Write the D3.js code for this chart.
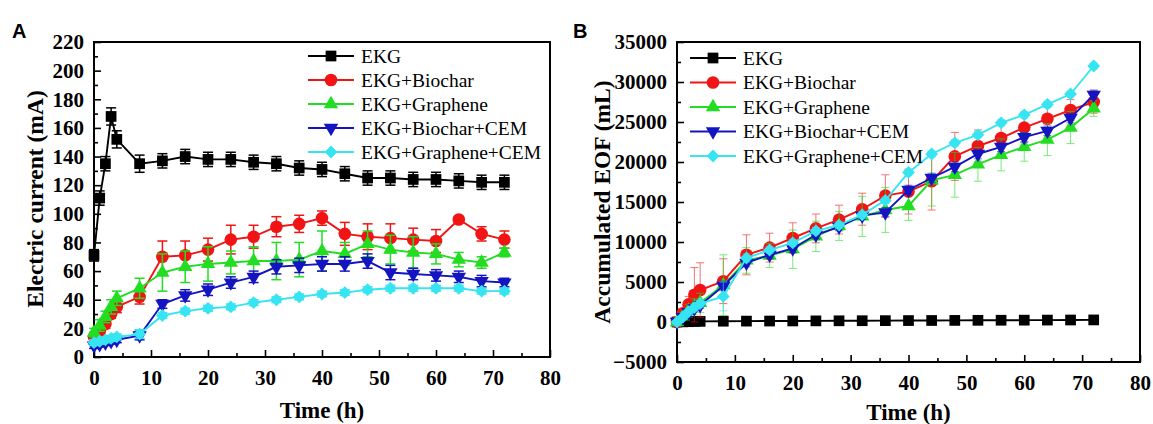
<!DOCTYPE html>
<html>
<head>
<meta charset="utf-8">
<script src="https://cdn.jsdelivr.net/npm/d3@7"></script>
<style>
  html, body { margin: 0; padding: 0; background: #fff; }
  svg { display: block; }
</style>
</head>
<body>
<div id="chart"></div>
<script>
// sampling times (h), shared by both panels
const times = [0, 1, 2, 3, 4, 8, 12, 16, 20, 24, 28, 32, 36, 40, 44, 48, 52, 56, 60, 64, 68, 72];

const seriesNames = ['EKG', 'EKG+Biochar', 'EKG+Graphene', 'EKG+Biochar+CEM', 'EKG+Graphene+CEM'];

// panel A: electric current (mA)
const ekgA          = [71, 111, 135, 168, 152, 135, 137, 140, 138, 138, 136, 135, 132, 131, 128, 125, 125, 124, 124, 123, 122, 122];
const ekgErrA       = [4, 5, 5, 6, 6, 6, 5, 5, 5, 5, 5, 5, 5, 5, 5, 5, 5, 5, 5, 5, 5, 5];
const biocharA      = [14, 18, 23, 30, 35, 42, 70, 71, 75, 82, 84, 91, 93, 97, 86, 84, 83, 82, 81, 96, 86, 82];
const biocharErrA   = [3, 3, 3, 3, 4, 5, 11, 10, 8, 10, 8, 7, 6, 5, 8, 9, 10, 8, 8, 1, 5, 6];
const grapheneA     = [17, 22, 28, 35, 41, 48, 59, 63, 65, 66, 67, 67, 68, 74, 72, 79, 75, 73, 72, 68, 66, 73];
const grapheneErrA  = [3, 4, 4, 5, 5, 7, 13, 11, 12, 8, 10, 13, 12, 14, 8, 9, 10, 11, 7, 5, 4, 3];
const biocharCemA   = [8, 9, 10, 11, 12, 15, 37, 43, 47, 52, 56, 63, 64, 65, 65, 67, 59, 58, 57, 56, 53, 52];
const biocharCemErrA = [2, 2, 2, 2, 2, 3, 3, 4, 4, 4, 4, 5, 5, 5, 5, 5, 5, 4, 4, 4, 4, 3];
const grapheneCemA  = [10, 11, 12, 13, 14, 16, 29, 32, 34, 35, 38, 40, 42, 44, 45, 47, 48, 48, 48, 48, 46, 46];
const grapheneCemErrA = [2, 2, 2, 2, 2, 3, 2, 2, 2, 2, 2, 2, 2, 2, 2, 2, 2, 2, 2, 2, 2, 2];

// panel B: accumulated EOF (mL)
const ekgB          = [0, 20, 40, 60, 80, 100, 110, 120, 130, 140, 150, 160, 170, 180, 190, 200, 210, 220, 230, 240, 250, 260];
const ekgErrB       = [0, 0, 0, 0, 0, 0, 0, 0, 0, 0, 0, 0, 0, 0, 0, 0, 0, 0, 0, 0, 0, 0];
const biocharB      = [0, 1100, 2200, 3400, 4000, 5100, 8400, 9300, 10500, 11700, 12800, 14100, 15800, 16300, 17600, 20700, 22000, 23000, 24300, 25400, 26500, 27500];
const biocharErrB   = [0, 500, 1000, 3400, 3400, 2800, 2500, 1800, 1900, 1800, 1800, 2000, 2600, 2800, 3600, 3000, 2000, 2000, 1800, 1500, 1300, 1400];
const grapheneB     = [0, 700, 1400, 1900, 2400, 4600, 7700, 8300, 9100, 10700, 12000, 13200, 14000, 14500, 17700, 18400, 19700, 20900, 21900, 22800, 24300, 26700];
const grapheneErrB  = [0, 400, 800, 1000, 1200, 3800, 1600, 1500, 2400, 1900, 1800, 2500, 2800, 1800, 3200, 2800, 2100, 2000, 1800, 2000, 2000, 1000];
const biocharCemB   = [0, 600, 1200, 1700, 2100, 4500, 7400, 8400, 9200, 10900, 11900, 13300, 13700, 16500, 18000, 19400, 21000, 21900, 23100, 23900, 25500, 28400];
const biocharCemErrB = [0, 200, 300, 400, 400, 600, 500, 500, 500, 500, 500, 500, 600, 600, 600, 600, 600, 600, 600, 600, 600, 600];
const grapheneCemB  = [0, 600, 1300, 1800, 2300, 3200, 8000, 9000, 9900, 11400, 12100, 13400, 15200, 18700, 21000, 22400, 23400, 24900, 25900, 27200, 28500, 32000];
const grapheneCemErrB = [0, 200, 300, 400, 400, 1800, 500, 400, 400, 400, 400, 400, 400, 400, 400, 400, 400, 400, 400, 400, 400, 400];

const xTicks = [0, 10, 20, 30, 40, 50, 60, 70, 80];
const xMinorTicks = [5, 15, 25, 35, 45, 55, 65, 75];
const yTicksA = [0, 20, 40, 60, 80, 100, 120, 140, 160, 180, 200, 220];
const yMinorTicksA = [10, 30, 50, 70, 90, 110, 130, 150, 170, 190, 210];
const yTicksB = [-5000, 0, 5000, 10000, 15000, 20000, 25000, 30000, 35000];
const yMinorTicksB = [-2500, 2500, 7500, 12500, 17500, 22500, 27500, 32500];

const colors = ['#000000', '#f01414', '#22dd22', '#1414c0', '#36e4f2'];
const shapes = ['square', 'circle', 'triangle', 'triangleDown', 'diamond'];

const serif = '"Liberation Serif", "Times New Roman", serif';
const W = 1153, H = 424;

const svg = d3.select('#chart').append('svg')
  .attr('width', W)
  .attr('height', H);

function markerPath(shape) {
  switch (shape) {
    case 'square': return d3.symbol(d3.symbolSquare, 115)();
    case 'circle': return d3.symbol(d3.symbolCircle, 125)();
    case 'triangle': return d3.symbol(d3.symbolTriangle, 90)();
    case 'triangleDown': return d3.symbol(d3.symbolTriangle, 90)();
    case 'diamond': return d3.symbol(d3.symbolSquare, 82)();
  }
}

function markerRotate(shape) {
  if (shape === 'triangleDown') return ' rotate(180)';
  if (shape === 'diamond') return ' rotate(45)';
  return '';
}

function drawPanel(cfg) {
  const { left, right, top, bottom } = cfg;
  const g = svg.append('g');

  const x = d3.scaleLinear().domain([0, 80]).range([left, right]);
  const y = d3.scaleLinear().domain(cfg.yDomain).range([bottom, top]);

  // axes: inward ticks, labels outside
  g.append('g')
    .attr('transform', `translate(0,${bottom})`)
    .call(d3.axisBottom(x).tickValues(xTicks).tickSize(-7).tickPadding(13).tickFormat(d3.format('d')));
  g.append('g')
    .attr('transform', `translate(0,${bottom})`)
    .call(d3.axisBottom(x).tickValues(xMinorTicks).tickSize(-4).tickFormat(''));

  g.append('g')
    .attr('transform', `translate(${left},0)`)
    .call(d3.axisLeft(y).tickValues(cfg.yTicks).tickSize(-7).tickPadding(10).tickFormat(d3.format('d')));
  g.append('g')
    .attr('transform', `translate(${left},0)`)
    .call(d3.axisLeft(y).tickValues(cfg.yMinorTicks).tickSize(-4).tickFormat(''));

  g.selectAll('.domain').remove();
  g.selectAll('.tick line').attr('stroke', '#000').attr('stroke-width', 1.6);
  g.selectAll('.tick text')
    .attr('fill', '#000')
    .attr('font-family', serif)
    .attr('font-weight', 'bold')
    .attr('font-size', '21px');

  g.append('rect')
    .attr('x', left).attr('y', top)
    .attr('width', right - left).attr('height', bottom - top)
    .attr('fill', 'none')
    .attr('stroke', '#000')
    .attr('stroke-width', 2);

  // axis titles
  g.append('text')
    .attr('x', (left + right) / 2)
    .attr('y', cfg.xTitleY)
    .attr('text-anchor', 'middle')
    .attr('font-family', serif)
    .attr('font-weight', 'bold')
    .attr('font-size', '23px')
    .text('Time (h)');

  g.append('text')
    .attr('transform', `translate(${cfg.yTitleX},${cfg.yTitleY}) rotate(-90)`)
    .attr('text-anchor', 'middle')
    .attr('font-family', serif)
    .attr('font-weight', 'bold')
    .attr('font-size', '23.5px')
    .text(cfg.yTitle);

  // panel letter
  g.append('text')
    .attr('x', cfg.letterX)
    .attr('y', 38)
    .attr('font-family', '"Liberation Sans", Arial, sans-serif')
    .attr('font-weight', 'bold')
    .attr('font-size', '20px')
    .text(cfg.letter);

  // series
  const line = d3.line().x(d => x(d.t)).y(d => y(d.v));
  const plot = g.append('g');

  cfg.series.forEach((s, i) => {
    const pts = times.map((t, j) => ({ t, v: s.values[j], e: s.errors[j] }));
    const sg = plot.append('g');
    const col = colors[i];

    // error bars
    const eb = sg.append('g')
      .attr('stroke', col)
      .attr('stroke-width', cfg.errWidth)
      .attr('opacity', cfg.errOpacity);
    pts.filter(d => d.e > 0).forEach(d => {
      const cx = x(d.t), y1 = y(d.v + d.e), y0 = y(d.v - d.e);
      eb.append('line').attr('x1', cx).attr('x2', cx).attr('y1', y1).attr('y2', y0);
      eb.append('line').attr('x1', cx - cfg.cap).attr('x2', cx + cfg.cap).attr('y1', y1).attr('y2', y1);
      eb.append('line').attr('x1', cx - cfg.cap).attr('x2', cx + cfg.cap).attr('y1', y0).attr('y2', y0);
    });

    sg.append('path')
      .datum(pts)
      .attr('fill', 'none')
      .attr('stroke', col)
      .attr('stroke-width', 1.9)
      .attr('d', line);

    sg.selectAll('path.mk')
      .data(pts)
      .enter()
      .append('path')
      .attr('class', 'mk')
      .attr('d', markerPath(shapes[i]))
      .attr('transform', d => `translate(${x(d.t)},${y(d.v)})${markerRotate(shapes[i])}`)
      .attr('fill', col);
  });

  // legend
  const lg = g.append('g');
  seriesNames.forEach((name, i) => {
    const ly = cfg.legendY + i * cfg.legendStep;
    const lx = cfg.legendX;
    lg.append('line')
      .attr('x1', lx).attr('x2', lx + 46)
      .attr('y1', ly).attr('y2', ly)
      .attr('stroke', colors[i]).attr('stroke-width', 1.9);
    lg.append('path')
      .attr('d', markerPath(shapes[i]))
      .attr('transform', `translate(${lx + 23},${ly})${markerRotate(shapes[i])}`)
      .attr('fill', colors[i]);
    lg.append('text')
      .attr('x', lx + 53)
      .attr('y', ly)
      .attr('dy', '0.35em')
      .attr('font-family', serif)
      .attr('font-size', '19.5px')
      .attr('fill', '#000')
      .text(name);
  });
}

drawPanel({
  left: 94, right: 550, top: 42, bottom: 357,
  yDomain: [0, 220], yTicks: yTicksA, yMinorTicks: yMinorTicksA,
  yTitle: 'Electric current (mA)', yTitleX: 43, yTitleY: 199, xTitleY: 418,
  letter: 'A', letterX: 12,
  legendX: 308, legendY: 56, legendStep: 24,
  errWidth: 1.5, errOpacity: 1, cap: 5,
  series: [
    { values: ekgA, errors: ekgErrA },
    { values: biocharA, errors: biocharErrA },
    { values: grapheneA, errors: grapheneErrA },
    { values: biocharCemA, errors: biocharCemErrA },
    { values: grapheneCemA, errors: grapheneCemErrA }
  ]
});

drawPanel({
  left: 677, right: 1140, top: 42, bottom: 362,
  yDomain: [-5000, 35000], yTicks: yTicksB, yMinorTicks: yMinorTicksB,
  yTitle: 'Accumulated EOF (mL)', yTitleX: 610, yTitleY: 202, xTitleY: 420,
  letter: 'B', letterX: 573,
  legendX: 690, legendY: 58, legendStep: 24.5,
  errWidth: 1, errOpacity: 0.6, cap: 4,
  series: [
    { values: ekgB, errors: ekgErrB },
    { values: biocharB, errors: biocharErrB },
    { values: grapheneB, errors: grapheneErrB },
    { values: biocharCemB, errors: biocharCemErrB },
    { values: grapheneCemB, errors: grapheneCemErrB }
  ]
});
</script>
</body>
</html>
